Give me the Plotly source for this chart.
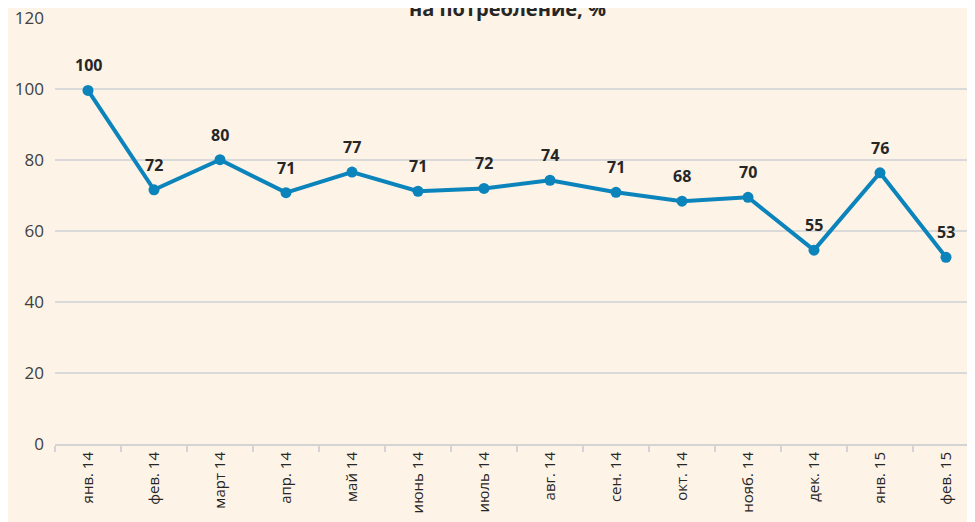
import plotly.graph_objects as go

months = ["янв. 14", "фев. 14", "март 14", "апр. 14", "май 14", "июнь 14", "июль 14",
          "авг. 14", "сен. 14", "окт. 14", "нояб. 14", "дек. 14", "янв. 15", "фев. 15"]
values = [99.6, 71.6, 80.1, 70.8, 76.6, 71.2, 72.0, 74.3, 70.9, 68.4, 69.5, 54.6, 76.4, 52.6]

LINE = "#0B84BC"
BG = "#FDF3E7"
FONT = "Open Sans, sans-serif"

fig = go.Figure(go.Scatter(
    x=months,
    y=values,
    mode="lines+markers",
    line=dict(color=LINE, width=4),
    marker=dict(size=11, color=LINE),
    cliponaxis=False,
    hoverinfo="skip",
))

# data labels above each point
labels = [dict(
    x=m, y=v, text=f"<b>{round(v)}</b>",
    showarrow=False, yshift=25,
    font=dict(family=FONT, size=16, color="#262626"),
) for m, v in zip(months, values)]

labels.append(dict(
    text="<b>на потребление, %</b>",
    xref="paper", yref="paper",
    x=0.49, y=1.022,
    xanchor="center", yanchor="middle",
    showarrow=False,
    font=dict(size=20, color="#262626", family=FONT),
))

fig.update_layout(
    width=975,
    height=522,
    paper_bgcolor=BG,
    plot_bgcolor=BG,
    showlegend=False,
    margin=dict(l=47, r=4, t=10, b=86),
    font=dict(family=FONT, color="#404040"),
    xaxis=dict(
        type="category",
        automargin=False,
        showgrid=False,
        showline=True,
        linecolor="#D4D4D4",
        linewidth=2,
        ticks="outside",
        tickson="boundaries",
        ticklen=6,
        tickcolor="#D4D4D4",
        tickwidth=2,
        tickangle=-90,
        tickfont=dict(size=15, color="#262626"),
        range=[-0.5, 13.5],
    ),
    yaxis=dict(
        automargin=False,
        range=[0, 120],
        dtick=20,
        showgrid=True,
        gridcolor="#D9D9D9",
        gridwidth=2,
        zeroline=False,
        ticklabeloverflow="allow",
        tickfont=dict(size=17, color="#404040"),
        ticklabelstandoff=10,
    ),
    annotations=labels,
)

fig.write_html("out.html")
